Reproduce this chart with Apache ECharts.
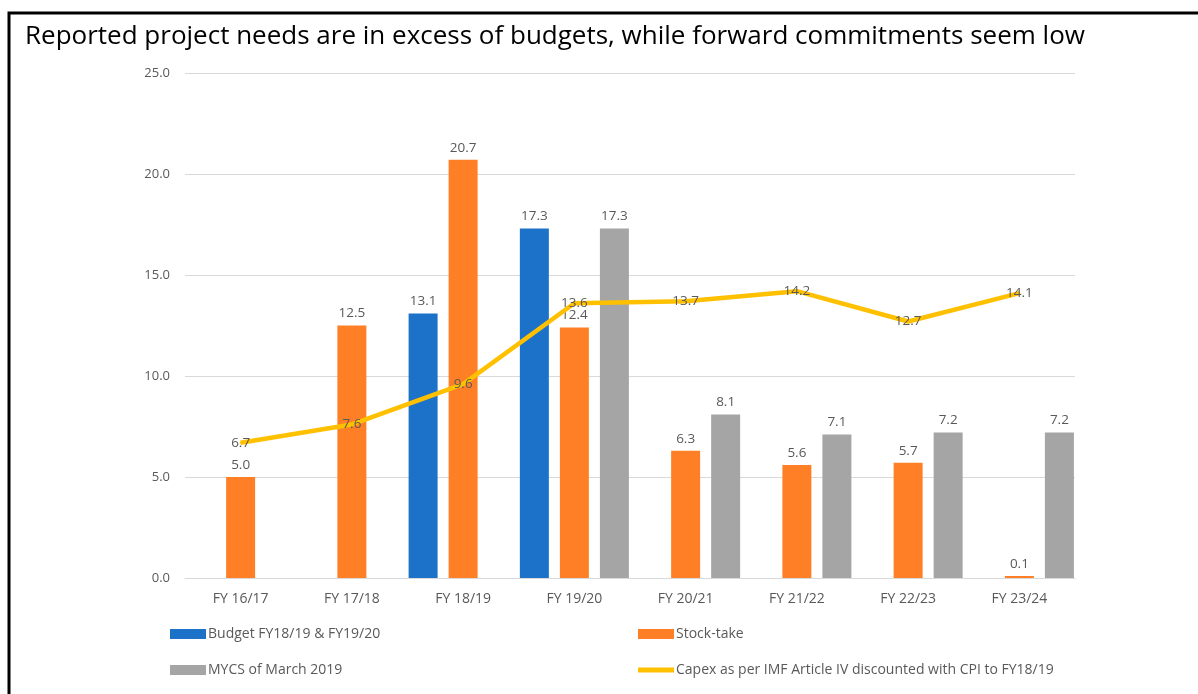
<!DOCTYPE html>
<html>
<head>
<meta charset="utf-8">
<script src="https://cdn.jsdelivr.net/npm/echarts@6/dist/echarts.min.js"></script>
<style>
html,body{margin:0;padding:0;background:#fff;}
#chart{width:1198px;height:694px;}
</style>
</head>
<body>
<div id="chart"></div>
<script>
const categories = ['FY 16/17','FY 17/18','FY 18/19','FY 19/20','FY 20/21','FY 21/22','FY 22/23','FY 23/24'];
const budget = [null, null, 13.1, 17.3, null, null, null, null];
const stockTake = [5.0, 12.5, 20.7, 12.4, 6.3, 5.6, 5.7, 0.1];
const mycs = [null, null, null, 17.3, 8.1, 7.1, 7.2, 7.2];
const capex = [6.7, 7.6, 9.6, 13.6, 13.7, 14.2, 12.7, 14.1];
const seriesNames = ['Budget FY18/19 & FY19/20', 'Stock-take', 'MYCS of March 2019', 'Capex as per IMF Article IV discounted with CPI to FY18/19'];
const titleText = 'Reported project needs are in excess of budgets, while forward commitments seem low';

const font = '"Open Sans", "Noto Sans", sans-serif';
const txt = '#595959';
const chart = echarts.init(document.getElementById('chart'), null, {renderer: 'canvas'});

const barLabel = {show: true, position: 'top', distance: 5, color: txt, fontSize: 13.5, fontFamily: font,
  formatter: p => (p.value == null ? '' : Number(p.value).toFixed(1))};

function legend(name, left, top, h) {
  return {
    data: [{name: name, icon: 'rect'}],
    left: left, top: top, orient: 'horizontal', padding: 0,
    itemWidth: 36, itemHeight: h, itemGap: 4,
    textStyle: {color: txt, fontSize: 14, fontFamily: font, padding: [0,0,0,-3]},
    selectedMode: false
  };
}

chart.setOption({
  animation: false,
  backgroundColor: '#fff',
  graphic: [{
    type: 'rect', silent: true,
    shape: {x: 9, y: 13, width: 1400, height: 1000},
    style: {fill: 'none', stroke: '#000', lineWidth: 3}
  }],
  title: {
    text: titleText, left: 20, top: 19,
    textStyle: {color: '#000', fontSize: 26, fontWeight: 'normal', fontFamily: font}
  },
  legend: [
    legend(seriesNames[0], 170, 627, 10),
    legend(seriesNames[1], 638, 627, 10),
    legend(seriesNames[2], 170, 663, 10),
    legend(seriesNames[3], 638, 663, 5)
  ],
  grid: {left: 185, right: 123, top: 73, bottom: 116, containLabel: false},
  xAxis: {
    type: 'category', data: categories,
    axisLine: {show: true, lineStyle: {color: '#d9d9d9', width: 1}},
    axisTick: {show: false},
    axisLabel: {color: txt, fontSize: 14, fontFamily: font, margin: 14}
  },
  yAxis: {
    type: 'value', min: 0, max: 25, interval: 5,
    axisLine: {show: false}, axisTick: {show: false},
    splitLine: {lineStyle: {color: '#d9d9d9', width: 1}},
    axisLabel: {color: txt, fontSize: 13, fontFamily: font, margin: 15, formatter: v => v.toFixed(1)}
  },
  series: [
    {name: seriesNames[0], type: 'bar', data: budget, barWidth: 29, barGap: '38%', itemStyle: {color: '#1C71C8'}, label: barLabel},
    {name: seriesNames[1], type: 'bar', data: stockTake, barWidth: 29, barGap: '38%', itemStyle: {color: '#FF7F27'}, label: barLabel},
    {name: seriesNames[2], type: 'bar', data: mycs, barWidth: 29, barGap: '38%', itemStyle: {color: '#A5A5A5'}, label: barLabel},
    {name: seriesNames[3], type: 'line', data: capex, z: 5,
      symbol: 'circle', symbolSize: 2, showSymbol: true,
      lineStyle: {color: '#FFC000', width: 4.5},
      itemStyle: {color: '#FFC000'},
      label: {show: true, position: 'inside', color: txt, fontSize: 13.5, fontFamily: font,
        formatter: p => Number(p.value).toFixed(1)}
    }
  ]
});
</script>
</body>
</html>
